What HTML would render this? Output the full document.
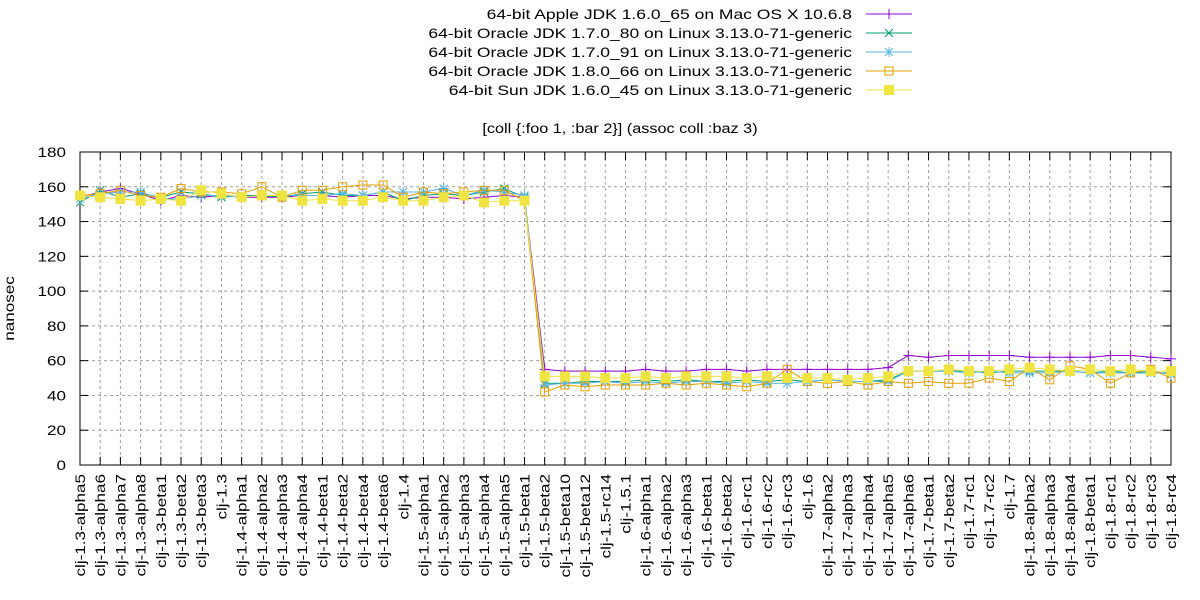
<!DOCTYPE html>
<html><head><meta charset="utf-8"><style>
html,body{margin:0;padding:0;background:#fff}
svg{display:block;font-family:"Liberation Sans",Arial,sans-serif}
</style></head><body>
<svg id="s" width="1200" height="600" xmlns="http://www.w3.org/2000/svg"></svg>
<script>
const S=document.getElementById('s');let h='';
const L=80,R=1171,T=152,B=465,K=1.22;
const X=i=>L+i*(R-L)/54, Y=v=>B-v*(B-T)/180;
const labels=["clj-1.3-alpha5","clj-1.3-alpha6","clj-1.3-alpha7","clj-1.3-alpha8","clj-1.3-beta1","clj-1.3-beta2","clj-1.3-beta3","clj-1.3","clj-1.4-alpha1","clj-1.4-alpha2","clj-1.4-alpha3","clj-1.4-alpha4","clj-1.4-beta1","clj-1.4-beta2","clj-1.4-beta4","clj-1.4-beta6","clj-1.4","clj-1.5-alpha1","clj-1.5-alpha2","clj-1.5-alpha3","clj-1.5-alpha4","clj-1.5-alpha5","clj-1.5-beta1","clj-1.5-beta2","clj-1.5-beta10","clj-1.5-beta12","clj-1.5-rc14","clj-1.5.1","clj-1.6-alpha1","clj-1.6-alpha2","clj-1.6-alpha3","clj-1.6-beta1","clj-1.6-beta2","clj-1.6-rc1","clj-1.6-rc2","clj-1.6-rc3","clj-1.6","clj-1.7-alpha2","clj-1.7-alpha3","clj-1.7-alpha4","clj-1.7-alpha5","clj-1.7-alpha6","clj-1.7-beta1","clj-1.7-beta2","clj-1.7-rc1","clj-1.7-rc2","clj-1.7","clj-1.8-alpha2","clj-1.8-alpha3","clj-1.8-alpha4","clj-1.8-beta1","clj-1.8-rc1","clj-1.8-rc2","clj-1.8-rc3","clj-1.8-rc4"];
for(let v=20;v<180;v+=20)h+=`<line x1="${L}" x2="${R}" y1="${Y(v)}" y2="${Y(v)}" stroke="#a0a0a0" stroke-dasharray="3,3"/>`;
for(let i=1;i<54;i++)h+=`<line x1="${X(i)}" x2="${X(i)}" y1="${T}" y2="${B}" stroke="#a0a0a0" stroke-dasharray="3,3"/>`;
for(let v=0;v<=180;v+=20){const y=Y(v);h+=`<line x1="${L}" x2="${L+8}" y1="${y}" y2="${y}" stroke="#000"/><line x1="${R}" x2="${R-8}" y1="${y}" y2="${y}" stroke="#000"/><text transform="translate(${L-14},${y+5}) scale(${K},1)" font-size="14" text-anchor="end">${v}</text>`;}
labels.forEach((t,i)=>{const x=X(i);h+=`<line x1="${x}" x2="${x}" y1="${B}" y2="${B-8}" stroke="#000"/><line x1="${x}" x2="${x}" y1="${T}" y2="${T+8}" stroke="#000"/><text transform="translate(${x+5},${B+9}) rotate(-90) scale(${K},1)" font-size="14" text-anchor="end">${t}</text>`;});
h+=`<rect x="${L}" y="${T}" width="${R-L}" height="${B-T}" fill="none" stroke="#000"/>`;
h+=`<text transform="translate(14,${(T+B)/2}) rotate(-90) scale(${K},1)" font-size="14" text-anchor="middle">nanosec</text>`;
h+=`<text transform="translate(620,133) scale(1.16,1)" font-size="14" text-anchor="middle">[coll {:foo 1, :bar 2}] (assoc coll :baz 3)</text>`;
const D=[
["#9400d3","+","64-bit Apple JDK 1.6.0_65 on Mac OS X 10.6.8",
[154,157,159,156,152,155,154,155,154,154,154,155,155,154,155,155,153,154,154,153,154,155,154,
55,54,54,54,54,55,54,54,55,55,54,55,55,55,55,55,55,56,63,62,63,63,63,63,62,62,62,62,63,63,62,61]],
["#009e73","x","64-bit Oracle JDK 1.7.0_80 on Linux 3.13.0-71-generic",
[151,158,154,156,154,157,156,154,155,155,154,156,157,155,155,157,152,155,156,155,157,159,154,
47,47,48,48,48,49,48,49,48,48,49,48,49,48,49,48,48,49,54,54,54,54,53,54,54,54,54,53,54,53,53,53]],
["#56b4e9","*","64-bit Oracle JDK 1.7.0_91 on Linux 3.13.0-71-generic",
[153,156,157,157,153,153,155,155,154,155,155,155,155,156,155,157,157,157,159,155,158,157,155,
46,47,47,48,47,48,47,48,48,47,48,47,47,48,49,48,48,48,54,54,54,53,54,53,53,53,54,53,53,53,54,52]],
["#e69f00","os","64-bit Oracle JDK 1.8.0_66 on Linux 3.13.0-71-generic",
[155,156,158,155,154,159,157,157,156,160,154,158,158,160,161,161,154,157,156,157,158,158,152,
42,46,45,46,46,46,47,46,47,46,45,47,55,48,47,48,46,48,47,48,47,47,50,48,56,49,57,55,47,53,55,50]],
["#f0e442","fs","64-bit Sun JDK 1.6.0_45 on Linux 3.13.0-71-generic",
[155,154,153,152,153,152,158,156,154,155,155,152,153,152,152,154,152,152,154,155,151,152,152,
51,51,51,50,50,51,50,51,51,51,50,51,50,50,50,49,50,51,54,54,55,54,54,55,56,55,54,55,54,55,54,54]]];
function mk(c,m,x,y){
 if(m=="+")return `<path d="M${x-5} ${y}h10M${x} ${y-5}v10" stroke="${c}" fill="none"/>`;
 if(m=="x")return `<path d="M${x-4} ${y-4}l8 8M${x-4} ${y+4}l8 -8" stroke="${c}" fill="none"/>`;
 if(m=="*")return `<path d="M${x-5} ${y}h10M${x} ${y-5}v10M${x-4} ${y-4}l8 8M${x-4} ${y+4}l8 -8" stroke="${c}" fill="none"/>`;
 if(m=="os")return `<rect x="${x-4}" y="${y-4}" width="8" height="8" stroke="${c}" fill="none"/>`;
 return `<rect x="${x-5}" y="${y-5}" width="10" height="10" fill="${c}"/>`;
}
D.forEach(([c,m,name,v],k)=>{
 h+=`<polyline fill="none" stroke="${c}" stroke-width="1" points="${v.map((d,i)=>X(i)+','+Y(d)).join(' ')}"/>`;
 v.forEach((d,i)=>h+=mk(c,m,X(i),Y(d)));
 const ly=14+k*19;
 h+=`<text transform="translate(852,${ly+5}) scale(1.25,1)" font-size="14" text-anchor="end">${name}</text><line x1="866" x2="912" y1="${ly}" y2="${ly}" stroke="${c}"/>`+mk(c,m,889,ly);
});
S.innerHTML=h;
</script>
</body></html>
